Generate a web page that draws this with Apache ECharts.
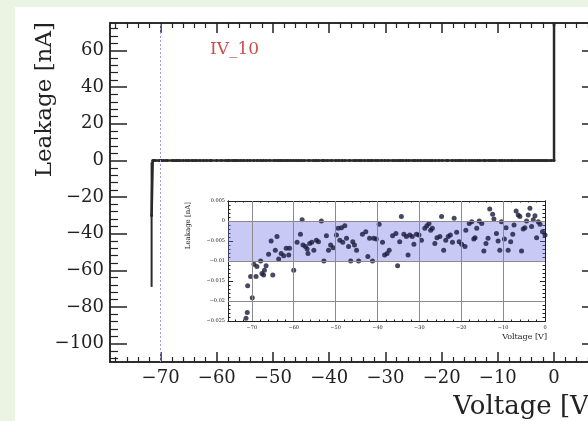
<!DOCTYPE html>
<html><head><meta charset="utf-8">
<script src="https://cdn.jsdelivr.net/npm/echarts@6/dist/echarts.min.js"></script>
<style>
html,body{margin:0;padding:0;background:#ebf4e3;width:588px;height:421px;overflow:hidden;}
#c{position:absolute;left:15px;top:7px;width:573px;height:414px;background:#fff;}
</style></head><body><div id="c"></div>
<script>
// ---------- data ----------
const xTickLabels = [-70, -60, -50, -40, -30, -20, -10, 0];
const yTickLabels = [-100, -80, -60, -40, -20, 0, 20, 40, 60];
const firstPoint = [-71.6, -30];          // [V, nA]
const firstPointError = [-69, -1];        // [low, high] nA
const lastPoint = [0, 74];                // [V, nA]
const insetVoltage = [
 -71.4,-71.1,-71.0,-70.3,-69.9,-69.5,-69.0,-68.8,-67.9,-67.6,-67.2,-67.0,-66.6,-66.0,-65.4,-65.0,
 -64.4,-64.0,-63.6,-63.0,-62.4,-61.8,-61.2,-61.0,-60.0,-59.2,-58.4,-58.0,-57.8,-57.2,-56.8,-56.6,
 -56.2,-55.7,-55.2,-54.6,-54.1,-53.4,-52.8,-52.2,-51.7,-51.2,-50.6,-49.8,-49.4,-49.0,-48.6,-48.3,
 -47.8,-47.4,-46.9,-46.4,-45.9,-45.5,-45.0,-44.5,-43.6,-42.8,-42.3,-41.9,-41.2,-40.9,-40.3,-39.6,
 -38.8,-38.3,-37.7,-37.2,-36.4,-35.6,-35.2,-34.7,-34.3,-33.7,-33.1,-32.7,-32.3,-31.7,-31.3,-30.7,
 -30.1,-29.5,-28.7,-28.2,-27.7,-27.3,-26.9,-26.3,-25.8,-25.1,-24.7,-24.2,-23.7,-23.1,-22.6,-22.1,
 -21.7,-21.1,-20.5,-19.9,-19.1,-18.9,-18.1,-17.5,-17.0,-16.7,-16.3,-15.7,-15.1,-14.6,-14.1,-13.6,
 -13.2,-12.5,-12.2,-11.6,-11.2,-10.8,-10.4,-9.7,-9.3,-8.8,-8.2,-7.7,-7.4,-6.9,-6.4,-6.0,
 -5.6,-5.2,-4.8,-4.4,-4.0,-3.6,-3.2,-2.8,-2.4,-2.0,-1.6,-1.2,-0.6,0.0
];
const insetLeakage = [
 -0.0243,-0.0229,-0.0162,-0.0139,-0.0192,-0.0108,-0.0139,-0.0114,-0.0100,-0.0131,-0.0135,-0.0123,-0.0112,-0.0083,-0.0050,-0.0135,
 -0.0073,-0.0039,-0.0095,-0.0081,-0.0087,-0.0068,-0.0085,-0.0068,-0.0123,-0.0053,-0.0033,0.0003,-0.0060,-0.0064,-0.0070,-0.0081,
 -0.0056,-0.0053,-0.0073,-0.0048,-0.0052,0.0000,-0.0100,-0.0037,-0.0073,-0.0060,-0.0067,-0.0035,-0.0018,-0.0048,-0.0017,-0.0053,
 -0.0012,-0.0043,-0.0064,-0.0100,-0.0052,-0.0060,-0.0073,-0.0100,-0.0033,-0.0027,-0.0089,-0.0043,-0.0100,-0.0043,-0.0045,-0.0008,
 -0.0053,-0.0085,-0.0081,-0.0073,-0.0037,-0.0031,-0.0112,-0.0052,0.0011,-0.0033,-0.0039,-0.0085,-0.0035,-0.0039,-0.0058,-0.0033,
 -0.0035,-0.0048,-0.0018,-0.0012,-0.0006,-0.0023,-0.0018,-0.0056,-0.0042,-0.0039,0.0011,-0.0073,-0.0048,-0.0039,-0.0035,-0.0053,
 0.0007,-0.0028,-0.0052,-0.0058,-0.0064,-0.0023,-0.0006,-0.0002,-0.0045,-0.0042,-0.0018,0.0000,-0.0006,-0.0075,-0.0056,-0.0043,
 0.0030,0.0017,0.0005,-0.0031,-0.0050,-0.0073,-0.0002,-0.0045,-0.0017,-0.0073,-0.0052,-0.0033,-0.0010,0.0025,0.0015,0.0011,
 -0.0075,-0.0020,-0.0017,0.0000,0.0015,0.0032,-0.0014,0.0003,0.0013,-0.0042,-0.0002,-0.0008,-0.0027,-0.0035
];
const insetXTickLabels = [-70, -60, -50, -40, -30, -20, -10, 0];
const insetYTickLabels = [-0.025, -0.02, -0.015, -0.01, -0.005, 0, 0.005];
const bandRange = [-0.01, 0];
const markerVoltage = -70;

// ---------- helpers ----------
const FONT = 'DejaVu Serif';
const INK = '#222';
function steps(a, b, s) { const o = []; for (let v = a; v <= b + 1e-9; v += s) o.push(+v.toFixed(6)); return o; }
function notIn(list, arr) { return arr.filter(v => !list.some(m => Math.abs(m - v) < 1e-9)); }
function fmt(v) { const s = String(+v.toFixed(6)); return v < 0 ? '\u2212' + s.slice(1) : s; }

const MX = [-79, 8], MY = [-110, 75];
const IX = [-75.7, 0], IY = [-0.025, 0.005];
const mainXMinor = notIn(xTickLabels, steps(-78, 8, 2));
const mainYMinor = notIn(yTickLabels, steps(-108, 72, 4));
const insetXMinor = notIn(insetXTickLabels, steps(-74, 0, 2));
const insetYMinor = notIn(insetYTickLabels, steps(-0.025, 0.005, 0.001));

function ax(grid, pos, ext, ticks, len, width, label) {
  return {
    type: 'value', gridIndex: grid, position: pos, min: ext[0], max: ext[1],
    axisLine: { show: true, onZero: false, lineStyle: { color: INK, width: grid === 0 ? 1.5 : 1 } },
    axisTick: { show: true, inside: true, length: len, customValues: ticks, lineStyle: { color: INK, width: width } },
    axisLabel: label ? Object.assign({ show: true, formatter: fmt, fontFamily: FONT, color: INK }, label) : { show: false },
    splitLine: { show: false }, splitArea: { show: false }
  };
}

const xAxis = [
  ax(0, 'bottom', MX, xTickLabels, 10, 1.5, { customValues: xTickLabels, fontSize: 18, margin: 7 }), //0
  ax(0, 'bottom', MX, mainXMinor, 5, 1.2),   //1
  ax(0, 'top', MX, xTickLabels, 10, 1.5),    //2
  ax(0, 'top', MX, mainXMinor, 5, 1.2),      //3
  ax(1, 'bottom', IX, insetXTickLabels, 3, 1, { customValues: insetXTickLabels, fontSize: 5, margin: 4 }), //4
  ax(1, 'bottom', IX, insetXMinor, 1.5, 1),  //5
  ax(1, 'top', IX, insetXTickLabels, 3, 1),  //6
  ax(1, 'top', IX, insetXMinor, 1.5, 1)      //7
];
const yAxis = [
  ax(0, 'left', MY, yTickLabels, 17, 1.5, { customValues: yTickLabels, fontSize: 18, margin: 6 }), //0
  ax(0, 'left', MY, mainYMinor, 8, 1.2),     //1
  ax(0, 'right', MY, yTickLabels, 17, 1.5),  //2
  ax(0, 'right', MY, mainYMinor, 8, 1.2),    //3
  ax(1, 'left', IY, insetYTickLabels, 5, 1, { customValues: insetYTickLabels, fontSize: 5, margin: 3 }), //4
  ax(1, 'left', IY, insetYMinor, 2.5, 1),    //5
  ax(1, 'right', IY, insetYTickLabels, 5, 1),//6
  ax(1, 'right', IY, insetYMinor, 2.5, 1)    //7
];

const insetData = insetVoltage.map((v, i) => [v, insetLeakage[i]]);
const mainData = [firstPoint].concat(insetData, [lastPoint]);

const gridLines = insetXTickLabels.filter(v => v > IX[0] && v < IX[1]).map(v => ({ xAxis: v }))
  .concat(insetYTickLabels.filter(v => v > IY[0] && v < IY[1]).map(v => ({ yAxis: v })));

const option = {
  animation: false,
  grid: [
    { left: 95, top: 16, width: 489, height: 339, show: false, containLabel: false, outerBoundsMode: 'none' },
    { left: 213, top: 194, width: 317, height: 120, show: true, backgroundColor: '#fff', borderWidth: 0, containLabel: false, outerBoundsMode: 'none' }
  ],
  xAxis, yAxis,
  series: [
    {
      type: 'line', xAxisIndex: 0, yAxisIndex: 0, data: mainData,
      symbol: 'circle', symbolSize: 3, showSymbol: true, clip: true,
      lineStyle: { color: '#2a2a2a', width: 2.5 }, itemStyle: { color: '#2a2a2a' },
      markLine: {
        silent: true, symbol: 'none', label: { show: false },
        lineStyle: { color: '#9c9ce8', type: [2, 2], width: 1 },
        data: [{ xAxis: markerVoltage }]
      }
    },
    {
      type: 'custom', xAxisIndex: 0, yAxisIndex: 0,
      data: [[firstPoint[0], firstPointError[0], firstPointError[1]]],
      renderItem: function (params, api) {
        const a = api.coord([api.value(0), api.value(1)]);
        const b = api.coord([api.value(0), api.value(2)]);
        return { type: 'line', shape: { x1: a[0], y1: a[1], x2: b[0], y2: b[1] }, style: { stroke: '#2a2a2a', lineWidth: 2 } };
      }
    },
    {
      type: 'scatter', xAxisIndex: 4, yAxisIndex: 4, data: insetData, symbolSize: 0, z: 1, silent: true,
      markArea: { silent: true, itemStyle: { color: 'rgba(112,112,232,0.38)' },
        data: [[{ yAxis: bandRange[1] }, { yAxis: bandRange[0] }]] }
    },
    {
      type: 'scatter', xAxisIndex: 4, yAxisIndex: 4, data: insetData, symbolSize: 0, z: 2, silent: true,
      markLine: { silent: true, symbol: 'none', label: { show: false },
        lineStyle: { color: '#8a8a8a', type: 'solid', width: 1 }, data: gridLines }
    },
    {
      type: 'scatter', xAxisIndex: 4, yAxisIndex: 4, data: insetData, symbolSize: 5, z: 3,
      itemStyle: { color: '#1a1a3c' }
    }
  ],
  graphic: [
    { type: 'text', x: 30, y: 15, rotation: Math.PI / 2,
      style: { text: 'Leakage [nA]', fontFamily: FONT, fontSize: 23, fill: INK, align: 'right', verticalAlign: 'middle' } },
    { type: 'text', x: 584, y: 400,
      style: { text: 'Voltage [V]', fontFamily: FONT, fontSize: 26, fill: INK, align: 'right', verticalAlign: 'middle' } },
    { type: 'text', x: 195, y: 43,
      style: { text: 'IV_10', fontFamily: FONT, fontSize: 17, fill: '#c85050', align: 'left', verticalAlign: 'middle' } },
    { type: 'text', x: 173, y: 195, rotation: Math.PI / 2,
      style: { text: 'Leakage [nA]', fontFamily: FONT, fontSize: 7, fill: INK, align: 'right', verticalAlign: 'middle' } },
    { type: 'text', x: 532, y: 330,
      style: { text: 'Voltage [V]', fontFamily: FONT, fontSize: 8, fill: INK, align: 'right', verticalAlign: 'middle' } }
  ]
};
const chart = echarts.init(document.getElementById('c'));
chart.setOption(option);
</script></body></html>
